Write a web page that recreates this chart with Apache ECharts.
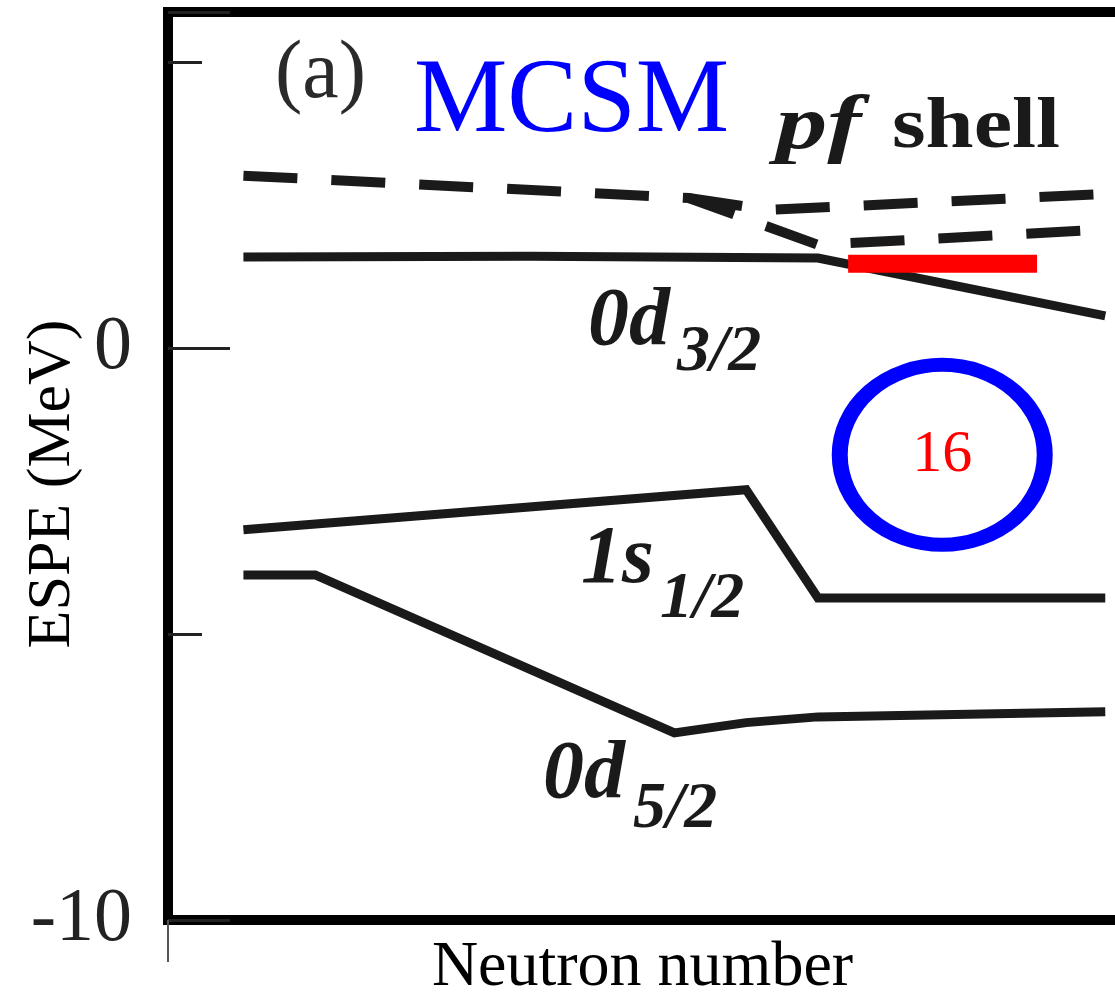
<!DOCTYPE html>
<html>
<head>
<meta charset="utf-8">
<script src="https://cdn.jsdelivr.net/npm/echarts@6/dist/echarts.min.js"></script>
<style>
  html, body { margin: 0; padding: 0; background: #ffffff; }
  #chart { width: 1115px; height: 997px; }
</style>
</head>
<body>
<div id="chart"></div>
<script>
// ---- data (neutron number vs ESPE in MeV) ----
const d52N = [8, 9, 14, 15, 16, 20];
const d52E = [-3.97, -3.97, -6.73, -6.55, -6.45, -6.36];
const s12N = [8, 15, 16, 20];
const s12E = [-3.18, -2.48, -4.37, -4.37];
const d32N = [8, 12, 16, 20];
const d32E = [1.59, 1.60, 1.57, 0.56];
const pfLowN = [8, 14.2, 16, 20];
const pfLowE = [3.01, 2.62, 1.80, 2.07];
const pfUpN = [14.2, 15.3, 20];
const pfUpE = [2.62, 2.41, 2.69];
const gapBarN = [16.42, 19.05];
const gapBarE = [1.47, 1.47];
const magicN = [17.73];
const magicE = [-1.87];
const magicLabel = ['16'];
const yTickLabels = [-10, 0];

const pairs = (xs, ys) => xs.map((x, i) => [x, ys[i]]);

const chart = echarts.init(document.getElementById('chart'), null, { renderer: 'canvas' });

const ink = '#1a1a1a';
const serif = '"Liberation Serif", "Times New Roman", serif';

const lineSeries = (data, width, type) => ({
  type: 'line',
  data: data,
  showSymbol: false,
  symbol: 'none',
  silent: true,
  lineStyle: { color: ink, width: width, type: type || 'solid', join: 'miter', cap: 'butt' }
});

const option = {
  animation: false,
  backgroundColor: '#ffffff',
  grid: {
    left: 168, top: 12, width: 1045, height: 908,
    outerBoundsMode: 'none', containLabel: false,
    show: true, borderColor: '#000000', borderWidth: 10, backgroundColor: '#ffffff'
  },
  xAxis: {
    type: 'value', min: 6.95, max: 21.5, interval: 100,
    axisLine: { show: false, onZero: false },
    axisTick: { show: true, inside: false, length: 42, lineStyle: { color: '#555', width: 2 } },
    axisLabel: { show: false },
    splitLine: { show: false },
    name: 'Neutron number', nameLocation: 'middle', nameGap: 16,
    nameTextStyle: { fontFamily: serif, fontSize: 64, color: '#000', padding: [0, 96, 0, 0], verticalAlign: 'top' }
  },
  yAxis: [
    {
      type: 'value', position: 'left', min: -10, max: 5.87, interval: 5,
      axisLine: { show: false, onZero: false },
      axisTick: { show: true, inside: true, length: 34, lineStyle: { color: '#222', width: 3 } },
      axisLabel: { show: false },
      splitLine: { show: false },
      name: 'ESPE (MeV)', nameLocation: 'middle', nameGap: 84, nameRotate: 90,
      nameTextStyle: { fontFamily: serif, fontSize: 62, color: '#000', padding: [0, 36, 0, 0] }
    },
    {
      type: 'value', position: 'left', min: -10, max: 5.87, interval: 10,
      axisLine: { show: false, onZero: false },
      axisTick: { show: true, inside: true, length: 62, lineStyle: { color: '#222', width: 3 } },
      axisLabel: {
        show: true, margin: 36, fontFamily: serif, fontSize: 76, color: '#222',
        formatter: v => (yTickLabels.indexOf(Math.round(v * 1000) / 1000) >= 0 ? String(v) : '')
      },
      splitLine: { show: false }
    }
  ],
  series: [
    lineSeries(pairs(pfLowN, pfLowE), 10, [54, 34]),
    lineSeries(pairs(pfUpN, pfUpE), 10, [54, 34]),
    lineSeries(pairs(d32N, d32E), 9),
    lineSeries(pairs(s12N, s12E), 9),
    lineSeries(pairs(d52N, d52E), 9),
    {
      type: 'line', data: pairs(gapBarN, gapBarE), showSymbol: false, symbol: 'none', silent: true,
      lineStyle: { color: '#ff0000', width: 18, cap: 'butt' }, z: 5
    },
    {
      type: 'scatter', data: pairs(magicN, magicE), symbol: 'circle', symbolSize: [205, 180], silent: true,
      itemStyle: { color: 'rgba(255,255,255,0)', borderColor: '#0000ff', borderWidth: 15, opacity: 1 },
      label: {
        show: true, position: 'inside', formatter: p => magicLabel[p.dataIndex],
        color: '#ff0000', fontFamily: serif, fontSize: 60, opacity: 1
      },
      z: 6
    }
  ],
  graphic: [
    { type: 'text', x: 275, y: 75, style: { text: '(a)', font: '82px "Liberation Serif"', fill: '#2a2a2a', textAlign: 'left', textVerticalAlign: 'middle' } },
    { type: 'text', x: 414, y: 103, style: { text: 'MCSM', font: '105px "Liberation Serif"', fill: '#0000ff', textAlign: 'left', textVerticalAlign: 'middle' } },
    { type: 'text', x: 776, y: 128, scaleX: 1.35, style: { text: 'pf', font: 'italic bold 76px "Liberation Serif"', fill: ink, textAlign: 'left', textVerticalAlign: 'middle' } },
    { type: 'text', x: 892, y: 128, scaleX: 1.2, style: { text: 'shell', font: 'bold 72px "Liberation Serif"', fill: ink, textAlign: 'left', textVerticalAlign: 'middle' } },

    { type: 'text', x: 588, y: 323, style: { text: '0d', font: 'italic bold 82px "Liberation Serif"', fill: ink, textAlign: 'left', textVerticalAlign: 'middle' } },
    { type: 'text', x: 677, y: 353, style: { text: '3/2', font: 'italic bold 66px "Liberation Serif"', fill: ink, textAlign: 'left', textVerticalAlign: 'middle' } },

    { type: 'text', x: 581, y: 561, style: { text: '1s', font: 'italic bold 82px "Liberation Serif"', fill: ink, textAlign: 'left', textVerticalAlign: 'middle' } },
    { type: 'text', x: 660, y: 600, style: { text: '1/2', font: 'italic bold 66px "Liberation Serif"', fill: ink, textAlign: 'left', textVerticalAlign: 'middle' } },

    { type: 'text', x: 543, y: 776, style: { text: '0d', font: 'italic bold 82px "Liberation Serif"', fill: ink, textAlign: 'left', textVerticalAlign: 'middle' } },
    { type: 'text', x: 633, y: 810, style: { text: '5/2', font: 'italic bold 66px "Liberation Serif"', fill: ink, textAlign: 'left', textVerticalAlign: 'middle' } }
  ]
};

chart.setOption(option);
</script>
</body>
</html>
